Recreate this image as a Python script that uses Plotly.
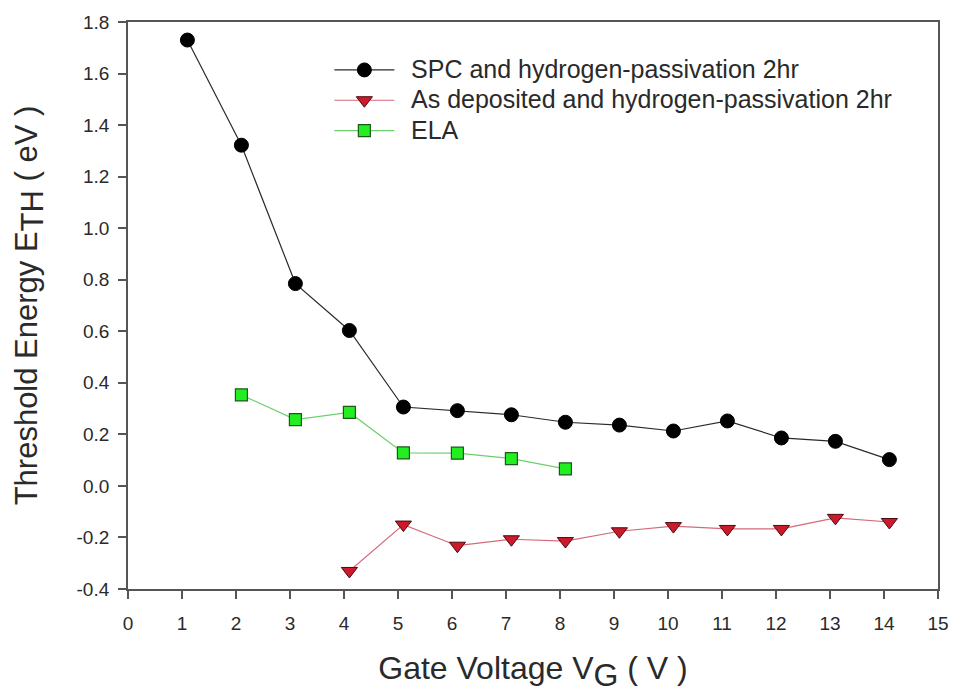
import plotly.graph_objects as go

# Gate voltage (V) for each measurement
vg_spc = [1.1, 2.1, 3.1, 4.1, 5.1, 6.1, 7.1, 8.1, 9.1, 10.1, 11.1, 12.1, 13.1, 14.1]
eth_spc = [1.73, 1.322, 0.785, 0.603, 0.306, 0.292, 0.276, 0.247, 0.236, 0.213, 0.252, 0.186, 0.173, 0.102]

vg_asdep = [4.1, 5.1, 6.1, 7.1, 8.1, 9.1, 10.1, 11.1, 12.1, 13.1, 14.1]
eth_asdep = [-0.33, -0.150, -0.232, -0.207, -0.214, -0.176, -0.156, -0.167, -0.167, -0.124, -0.140]

vg_ela = [2.1, 3.1, 4.1, 5.1, 6.1, 7.1, 8.1]
eth_ela = [0.353, 0.257, 0.285, 0.128, 0.127, 0.106, 0.066]

series_names = [
    "SPC and hydrogen-passivation 2hr",
    "As deposited and hydrogen-passivation 2hr",
    "ELA",
]

x_ticks = list(range(0, 16))
y_ticks = [-0.4, -0.2, 0.0, 0.2, 0.4, 0.6, 0.8, 1.0, 1.2, 1.4, 1.6, 1.8]

FONT = "Liberation Sans, Arial, sans-serif"
TXT = "#2a2a2a"


def legend_label(text):
    # slightly larger glyphs than the legend row height implies
    return "\u00a0\u00a0<span style=\"font-size:25px\">" + text + "</span>"


fig = go.Figure()
fig.add_trace(go.Scatter(
    x=vg_spc, y=eth_spc, mode="lines+markers",
    name=legend_label(series_names[0]),
    line=dict(color="#2a2a2a", width=1.2),
    marker=dict(symbol="circle", size=14, color="#000000", line=dict(color="#000000", width=1)),
))
fig.add_trace(go.Scatter(
    x=vg_asdep, y=eth_asdep, mode="lines+markers",
    name=legend_label(series_names[1]),
    line=dict(color="#d46a7a", width=1.2),
    marker=dict(symbol="triangle-down", size=14, color="#cc1a2a", line=dict(color="#4a0a10", width=1)),
))
fig.add_trace(go.Scatter(
    x=vg_ela, y=eth_ela, mode="lines+markers",
    name=legend_label(series_names[2]),
    line=dict(color="#6ccf6c", width=1.2),
    marker=dict(symbol="square", size=12, color="#22ee22", line=dict(color="#1a5a1a", width=1.2)),
))

axis_common = dict(
    showline=True, linecolor="#555555", linewidth=1.8, mirror=True,
    ticks="outside", ticklen=8, tickwidth=1.5, tickcolor="#555555",
    showgrid=False, zeroline=False,
    tickfont=dict(family=FONT, size=19, color=TXT),
)

fig.update_layout(
    width=961, height=693,
    margin=dict(l=128, r=17, t=20, b=104),
    paper_bgcolor="white", plot_bgcolor="white",
    font=dict(family=FONT, color=TXT),
    xaxis=dict(
        range=[0, 15], tickvals=x_ticks, ticktext=[str(t) for t in x_ticks],
        ticklabelstandoff=8,
        title=dict(text="Gate Voltage V<sub><span style=\"font-size:32px\">G</span></sub> ( V )",
                   font=dict(family=FONT, size=32, color=TXT), standoff=25),
        **axis_common,
    ),
    yaxis=dict(
        range=[-0.4, 1.8], tickvals=y_ticks, ticktext=[f"{t:.1f}" for t in y_ticks],
        ticklabelstandoff=5,
        title=dict(text="Threshold Energy E<sub><span style=\"font-size:31px\">TH</span></sub> ( eV )",
                   font=dict(family=FONT, size=31, color=TXT), standoff=30),
        **axis_common,
    ),
    legend=dict(
        x=0.2486, y=0.951, xanchor="left", yanchor="top",
        bgcolor="rgba(0,0,0,0)", borderwidth=0,
        font=dict(family=FONT, size=21, color=TXT),
        tracegroupgap=0, itemwidth=60,
    ),
    showlegend=True,
)

fig.write_html("out.html")
